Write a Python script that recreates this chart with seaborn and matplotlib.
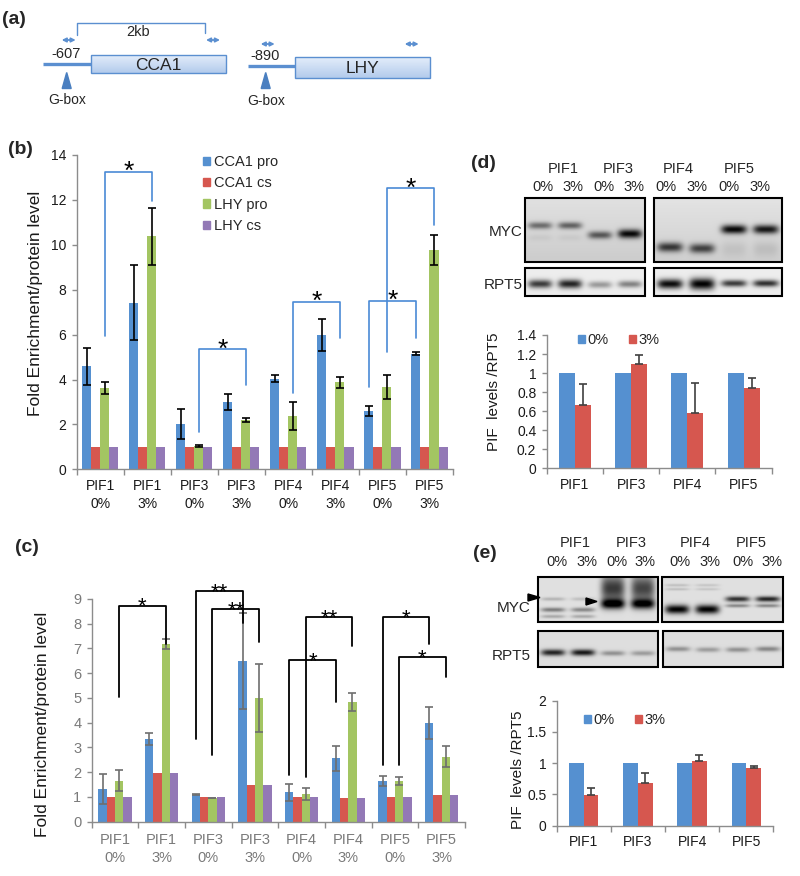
import numpy as np
import pandas as pd
import seaborn as sns
import matplotlib
matplotlib.use("Agg")
import matplotlib.pyplot as plt
from matplotlib.patches import Rectangle, Polygon, Patch
from matplotlib.colors import LinearSegmentedColormap

# ---------------- data ----------------
groups = ["PIF1\n0%", "PIF1\n3%", "PIF3\n0%", "PIF3\n3%",
          "PIF4\n0%", "PIF4\n3%", "PIF5\n0%", "PIF5\n3%"]
series = ["CCA1 pro", "CCA1 cs", "LHY pro", "LHY cs"]
colors4 = ["#5590d0", "#d6574f", "#a3c562", "#9379b6"]

b_cca1_pro = [4.58, 7.42, 2.03, 3.00, 4.04, 5.97, 2.60, 5.15]
b_cca1_pro_err = [0.81, 1.66, 0.66, 0.35, 0.17, 0.71, 0.21, 0.08]
b_cca1_cs = [1, 1, 1, 1, 1, 1, 1, 1]
b_lhy_pro = [3.61, 10.38, 1.03, 2.20, 2.37, 3.87, 3.65, 9.78]
b_lhy_pro_err = [0.26, 1.26, 0.04, 0.10, 0.63, 0.23, 0.54, 0.66]
b_lhy_cs = [1, 1, 1, 1, 1, 1, 1, 1]
# (group a, bar a, group b, bar b, left foot, top, right foot, label)
b_brackets = [(0, 2, 1, 2, 5.95, 13.24, 11.97, "*"),
              (2, 2, 3, 2, 1.68, 5.34, 3.76, "*"),
              (4, 2, 5, 2, 3.38, 7.47, 5.83, "*"),
              (6, 0, 7, 0, 3.68, 7.51, 5.83, "*"),
              (6, 2, 7, 2, 5.24, 12.51, 10.88, "*")]

c_cca1_pro = [1.31, 3.34, 1.08, 6.50, 1.19, 2.56, 1.64, 3.98]
c_cca1_pro_err = [0.61, 0.25, 0.02, 1.93, 0.35, 0.50, 0.20, 0.64]
c_cca1_cs = [1.00, 1.95, 1.01, 1.48, 1.00, 0.94, 1.00, 1.08]
c_lhy_pro = [1.66, 7.18, 0.94, 5.01, 1.12, 4.85, 1.64, 2.63]
c_lhy_pro_err = [0.43, 0.19, 0.0, 1.37, 0.26, 0.37, 0.15, 0.43]
c_lhy_cs = [1.00, 1.95, 1.00, 1.48, 1.00, 0.94, 1.00, 1.08]
c_brackets = [(0, 2, 1, 2, 5.05, 8.73, 7.18, "*"),
              (2, 0, 3, 0, 3.33, 9.33, 8.02, "**"),
              (2, 2, 3, 2, 2.70, 8.60, 7.28, "**"),
              (4, 0, 5, 0, 1.89, 6.54, 4.85, "*"),
              (4, 2, 5, 2, 1.79, 8.26, 7.10, "**"),
              (6, 0, 7, 0, 2.29, 8.26, 7.18, "*"),
              (6, 2, 7, 2, 2.29, 6.64, 5.86, "*")]

pifs = ["PIF1", "PIF3", "PIF4", "PIF5"]
conds = ["0%", "3%"]
colors2 = ["#5590d0", "#d6574f"]
d_0 = [1, 1, 1, 1]
d_3 = [0.66, 1.10, 0.58, 0.84]
d_3_err = [0.23, 0.09, 0.32, 0.11]
e_0 = [1, 1, 1, 1]
e_3 = [0.49, 0.68, 1.03, 0.93]
e_3_err = [0.12, 0.17, 0.10, 0.03]

# blot bands: (lane, vertical position in box 0-1, darkness, thickness)
d_myc_left = [(0, 0.43, 0.5, 0.11), (1, 0.43, 0.55, 0.11), (2, 0.58, 0.6, 0.12),
              (3, 0.56, 0.97, 0.14), (0, 0.62, 0.05, 0.1), (1, 0.62, 0.05, 0.1)]
d_myc_right = [(0, 0.77, 0.75, 0.15), (1, 0.79, 0.7, 0.15), (2, 0.49, 0.97, 0.14),
               (3, 0.49, 0.9, 0.14), (2, 0.8, 0.08, 0.25), (3, 0.8, 0.1, 0.25)]
d_rpt_left = [(0, 0.57, 0.75, 0.3), (1, 0.57, 0.85, 0.32), (2, 0.6, 0.35, 0.25), (3, 0.58, 0.45, 0.25)]
d_rpt_right = [(0, 0.57, 0.95, 0.35), (1, 0.57, 1.0, 0.42), (2, 0.55, 0.75, 0.25), (3, 0.55, 0.8, 0.25)]
e_myc_left = [(0, 0.49, 0.2, 0.08), (0, 0.73, 0.45, 0.1), (0, 0.88, 0.25, 0.08),
              (1, 0.49, 0.15, 0.08), (1, 0.73, 0.4, 0.1), (1, 0.88, 0.25, 0.08),
              (2, 0.25, 0.75, 0.6), (2, 0.6, 1.0, 0.22),
              (3, 0.25, 0.7, 0.6), (3, 0.6, 0.95, 0.22)]
e_myc_right = [(0, 0.18, 0.15, 0.06), (0, 0.27, 0.15, 0.06), (0, 0.72, 1.0, 0.2),
               (1, 0.18, 0.12, 0.06), (1, 0.27, 0.12, 0.06), (1, 0.72, 1.0, 0.2),
               (2, 0.49, 0.8, 0.12), (2, 0.64, 0.4, 0.08),
               (3, 0.49, 0.85, 0.12), (3, 0.64, 0.4, 0.08)]
e_rpt_left = [(0, 0.6, 0.85, 0.18), (1, 0.6, 0.9, 0.18), (2, 0.62, 0.35, 0.14), (3, 0.62, 0.3, 0.14)]
e_rpt_right = [(0, 0.5, 0.35, 0.14), (1, 0.52, 0.3, 0.14), (2, 0.52, 0.35, 0.14), (3, 0.5, 0.4, 0.14)]

# ---------------- figure ----------------
sns.set_style("white")
plt.rcParams['font.family'] = ['Liberation Sans', 'DejaVu Sans']
W, H = 800, 876
fig = plt.figure(figsize=(W / 100, H / 100), dpi=100)


def box(x0, y0, x1, y1):
    return [x0 / W, 1 - y1 / H, (x1 - x0) / W, (y1 - y0) / H]


def fpos(x, y):
    return x / W, 1 - y / H


ov = fig.add_axes([0, 0, 1, 1])
ov.set_xlim(0, W)
ov.set_ylim(H, 0)
ov.axis("off")


def barchart(ax, cats, names, vals, errs, cols, width, ecol, plus_only=False, cap=3):
    rows = [(c, n, v) for n, vs in zip(names, vals) for c, v in zip(cats, vs)]
    df = pd.DataFrame(rows, columns=["cat", "series", "value"])
    sns.barplot(data=df, x="cat", y="value", hue="series", order=cats, hue_order=names,
                palette=cols, width=width, gap=0, errorbar=None, saturation=1,
                linewidth=0, legend=False, ax=ax)
    centers = [[p.get_x() + p.get_width() / 2 for p in cont] for cont in ax.containers]
    for i, e in enumerate(errs):
        if e is None:
            continue
        yerr = [np.zeros(len(e)), e] if plus_only else e
        ax.errorbar(centers[i], vals[i], yerr=yerr, fmt="none", ecolor=ecol,
                    elinewidth=1.2, capsize=cap, capthick=1.2, zorder=3)
    return centers


def style(ax, n, yticks, ylabels, fs, tcol, xpad=7):
    sc = "#8c8c8c"
    ax.set_facecolor("none")
    ax.set_xlim(-0.5, n - 0.5)
    ax.set_ylim(yticks[0], yticks[-1])
    ax.set_yticks(yticks)
    ax.set_yticklabels(ylabels)
    for s in ["top", "right"]:
        ax.spines[s].set_visible(False)
    for s in ["left", "bottom"]:
        ax.spines[s].set_color(sc)
        ax.spines[s].set_linewidth(1)
    ax.tick_params(axis="y", left=True, direction="out", length=3.5, width=1, color=sc,
                   labelsize=fs, labelcolor=tcol, pad=4)
    ax.tick_params(axis="x", which="major", bottom=True, length=0, labelsize=fs,
                   labelcolor=tcol, pad=xpad)
    ax.set_xticks(np.arange(-0.5, n, 1), minor=True)
    ax.tick_params(axis="x", which="minor", bottom=True, direction="out", length=4,
                   width=1, color=sc)
    ax.set_xlabel("")


def brackets(ax, centers, specs, col, lw, fs, off):
    for ga, sa, gb, sb, ya, yt, yb, lab in specs:
        xa, xb = centers[sa][ga], centers[sb][gb]
        ax.plot([xa, xa, xb, xb], [ya, yt, yt, yb], color=col, lw=lw, clip_on=False, zorder=4)
        ax.annotate(lab, ((xa + xb) / 2, yt), xytext=(0, off), textcoords="offset points",
                    ha="center", va="baseline", fontsize=fs, color="black",
                    annotation_clip=False)


def ylab(ax, text, x, y, fs):
    ax.set_ylabel(text, fontsize=fs, color="#1a1a1a")
    ax.yaxis.label.set_va("center")
    ax.yaxis.set_label_coords(*fpos(x, y), transform=fig.transFigure)


# ---- panel (b)
axb = fig.add_axes(box(76.7, 155, 453, 469.3))
cb = barchart(axb, groups, series, [b_cca1_pro, b_cca1_cs, b_lhy_pro, b_lhy_cs],
              [b_cca1_pro_err, None, b_lhy_pro_err, None], colors4, 0.77, "black", cap=3)
style(axb, 8, list(range(0, 15, 2)), [str(v) for v in range(0, 15, 2)], 10, "#1a1a1a")
for t in axb.get_xticklabels():
    t.set_linespacing(1.35)
ylab(axb, "Fold Enrichment/protein level", 36, 303, 12.5)
brackets(axb, cb, b_brackets, "#4a8ad6", 1.2, 19, -5)
axb.legend([Patch(color=c) for c in colors4], series, loc="upper left",
           bbox_to_anchor=fpos(203, 155), bbox_transform=fig.transFigure,
           frameon=False, fontsize=10.5, handlelength=0.5, handleheight=0.5,
           handletextpad=0.25, labelspacing=0.5, borderpad=0, borderaxespad=0)

# ---- panel (c)
axc = fig.add_axes(box(91.7, 599, 465, 821.7))
cc = barchart(axc, groups, series, [c_cca1_pro, c_cca1_cs, c_lhy_pro, c_lhy_cs],
              [c_cca1_pro_err, None, c_lhy_pro_err, None], colors4, 0.71, "#6e6e6e", cap=3)
style(axc, 8, list(range(0, 10)), [str(v) for v in range(0, 10)], 10.5, "#7a7a7a", xpad=8)
for t in axc.get_xticklabels():
    t.set_linespacing(1.35)
ylab(axc, "Fold Enrichment/protein level", 43, 724, 12.5)
brackets(axc, cc, c_brackets, "black", 1.3, 16, -5)

# ---- panel (d) chart
axd = fig.add_axes(box(546.7, 335, 771.7, 468.3))
barchart(axd, pifs, conds, [d_0, d_3], [None, d_3_err], colors2, 0.57, "#404040",
         plus_only=True, cap=3)
style(axd, 4, [0, 0.2, 0.4, 0.6, 0.8, 1.0, 1.2, 1.4],
      ["0", "0.2", "0.4", "0.6", "0.8", "1", "1.2", "1.4"], 10, "#1a1a1a")
ylab(axd, "PIF  levels /RPT5", 494, 392, 11)
axd.legend([Patch(color=c) for c in colors2], conds, loc="center left", ncol=2,
           bbox_to_anchor=fpos(578, 340), bbox_transform=fig.transFigure,
           frameon=False, fontsize=10.5, handlelength=0.45, handleheight=0.45,
           handletextpad=0.2, columnspacing=1.4, borderpad=0, borderaxespad=0)

# ---- panel (e) chart
axe = fig.add_axes(box(556.7, 700.7, 773.3, 825.7))
barchart(axe, pifs, conds, [e_0, e_3], [None, e_3_err], colors2, 0.54, "#404040",
         plus_only=True, cap=3)
style(axe, 4, [0, 0.5, 1.0, 1.5, 2.0], ["0", "0.5", "1", "1.5", "2"], 10, "#1a1a1a")
ylab(axe, "PIF  levels /RPT5", 518, 770, 11)
axe.legend([Patch(color=c) for c in colors2], conds, loc="center left", ncol=2,
           bbox_to_anchor=fpos(584, 720), bbox_transform=fig.transFigure,
           frameon=False, fontsize=10.5, handlelength=0.45, handleheight=0.45,
           handletextpad=0.2, columnspacing=1.4, borderpad=0, borderaxespad=0)


# ---------------- blots ----------------
def blot(x0, y0, x1, y1, bands, bg, top_light=0.0):
    h, w = int((y1 - y0) * 3), int((x1 - x0) * 3)
    yy, xx = np.mgrid[0:1:h * 1j, 0:1:w * 1j]
    dark = np.zeros((h, w))
    for lane, yc, amp, th in bands:
        xc = (lane + 0.5) / 4
        px = np.exp(-((xx - xc) / 0.1) ** 4)
        py = np.exp(-((yy - yc) / (th / 2)) ** 2)
        dark += amp * px * py
    base = bg + top_light * (1 - yy)
    img = np.clip(base * (1 - np.clip(dark, 0, 1)), 0, 1)
    ov.imshow(img, cmap="gray", vmin=0, vmax=1, extent=(x0, x1, y1, y0),
              aspect="auto", interpolation="bilinear", zorder=1)
    ov.add_patch(Rectangle((x0, y0), x1 - x0, y1 - y0, fill=False, ec="black", lw=1.5, zorder=2))


blot(525, 198, 645, 262, d_myc_left, 0.8, 0.08)
blot(654, 198, 782, 262, d_myc_right, 0.81, 0.08)
blot(525, 268, 645, 296, d_rpt_left, 0.93)
blot(654, 268, 782, 296, d_rpt_right, 0.93)
blot(538, 577, 658, 622, e_myc_left, 0.88)
blot(662, 577, 783, 622, e_myc_right, 0.88)
blot(538, 631, 658, 667, e_rpt_left, 0.87)
blot(663, 631, 783, 667, e_rpt_right, 0.87)

bfs = 10.5
for x, t in zip([563, 618, 678, 739], pifs):
    ov.text(x, 169, t, ha="center", va="center", fontsize=bfs)
for x, t in zip([543, 573, 604, 634, 666, 697, 729, 760], conds * 4):
    ov.text(x, 187, t, ha="center", va="center", fontsize=bfs)
ov.text(523, 232, "MYC", ha="right", va="center", fontsize=11)
ov.text(523, 285, "RPT5", ha="right", va="center", fontsize=11)
for x, t in zip([575, 631, 695, 751], pifs):
    ov.text(x, 543, t, ha="center", va="center", fontsize=bfs)
for x, t in zip([557, 587, 617, 645, 680, 710, 743, 772], conds * 4):
    ov.text(x, 562, t, ha="center", va="center", fontsize=bfs)
ov.text(531, 608, "MYC", ha="right", va="center", fontsize=11)
ov.text(531, 656, "RPT5", ha="right", va="center", fontsize=11)
ov.add_patch(Polygon([(528, 594), (540, 597.5), (528, 601)], color="black", zorder=3))
ov.add_patch(Polygon([(586, 598), (597, 601.5), (586, 605)], color="black", zorder=3))

# ---------------- panel (a) diagram ----------------
gblue = "#5b8fd0"
grad_cmap = LinearSegmentedColormap.from_list("g", ["#e6effb", "#b3cbec"])
for (lx0, lx1, ly, bx0, bx1, by0, by1, gene, gx, num, arr2) in [
        (43, 91, 63.5, 90.7, 226, 55, 73.3, "CCA1", 66.7, "-607", 213),
        (248, 295, 66, 295, 430, 56.5, 78, "LHY", 265.7, "-890", 411.7)]:
    ov.plot([lx0, lx1], [ly, ly], color=gblue, lw=2.4, solid_capstyle="butt", zorder=1)
    grad = np.linspace(0, 1, 50).reshape(-1, 1)
    im = ov.imshow(grad, cmap=grad_cmap, extent=(bx0, bx1, by1, by0), aspect="auto", zorder=2)
    rect = Rectangle((bx0, by0), bx1 - bx0, by1 - by0, fill=False, ec=gblue, lw=1, zorder=3)
    ov.add_patch(rect)
    im.set_clip_path(rect)
    ov.text((bx0 + bx1) / 2, (by0 + by1) / 2 + 1, gene, ha="center", va="center",
            fontsize=12.5)
    ov.add_patch(Polygon([(gx - 4.5, 88.5), (gx, 72.5), (gx + 4.5, 88.5)], color="#4a7fc0", zorder=3))
    ov.text(gx, 101 if gene == "LHY" else 100, "G-box", ha="center", va="center",
            fontsize=10)
    ov.text(gx - 1, ly - 10, num, ha="center", va="center", fontsize=10.5)
    ay = 40 if gene == "CCA1" else 44
    for ax_ in [gx + 2, arr2]:
        ov.annotate("", xy=(ax_ + 7, ay), xytext=(ax_ - 7, ay),
                    arrowprops=dict(arrowstyle="<|-|>", color=gblue, lw=1.3,
                                    mutation_scale=6, shrinkA=0, shrinkB=0))
ov.plot([77.3, 77.3, 205, 205], [35, 22.7, 22.7, 33], color=gblue, lw=1)
ov.text(138, 32, "2kb", ha="center", va="center", fontsize=10.5)

# panel letters
for x, y, t in [(13.5, 19, "(a)"), (20, 150, "(b)"), (27, 547, "(c)"),
                (483, 164, "(d)"), (485, 553, "(e)")]:
    ov.text(x, y, t, ha="center", va="center", fontsize=14, fontweight="bold")

fig.savefig("out.png", dpi=100)
